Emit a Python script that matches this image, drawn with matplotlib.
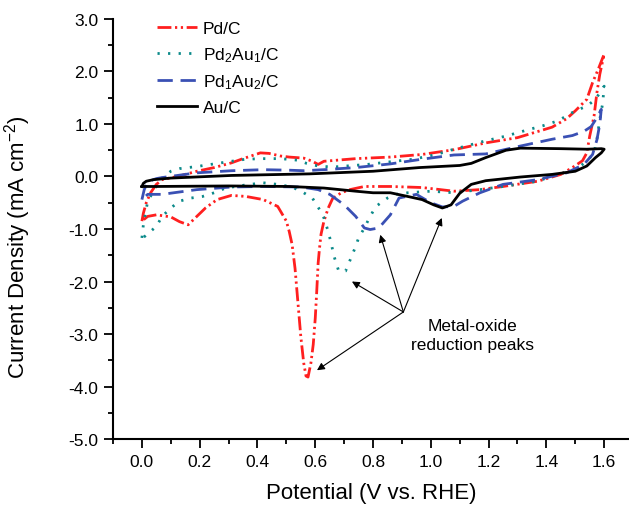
#!/usr/bin/env python3
"""
Cyclic voltammograms of Pd/C, Pd-Au/C and Au/C catalysts.

Draws the four CV loops (current density vs. potential) and marks the
metal-oxide reduction peaks with arrows from one label.
"""

import matplotlib
matplotlib.use('Agg')
import matplotlib.pyplot as plt
from matplotlib.ticker import MultipleLocator, FormatStrFormatter

# Pd/C: forward scan from 0 V to 1.6 V, then back to 0 V
pdc_v = [0.0, 0.005, 0.015, 0.03, 0.05, 0.07, 0.13, 0.19, 0.25, 0.31, 0.35, 0.41,
         0.44, 0.48, 0.51, 0.56, 0.59, 0.61, 0.63, 0.74, 0.86, 0.97, 1.08, 1.19,
         1.30, 1.42, 1.47, 1.50, 1.54, 1.56, 1.58, 1.60,
         1.585, 1.575, 1.565, 1.55, 1.54, 1.525, 1.49, 1.45, 1.37, 1.25, 1.17,
         1.08, 0.97, 0.86, 0.77, 0.72, 0.69, 0.66, 0.645, 0.63, 0.62, 0.615,
         0.61, 0.605, 0.60, 0.593, 0.585, 0.575, 0.568, 0.56, 0.55, 0.54, 0.53,
         0.52, 0.51, 0.50, 0.47, 0.42, 0.36, 0.31, 0.26, 0.22, 0.19, 0.16, 0.13,
         0.10, 0.05, 0.02, 0.0]
pdc_j = [-0.85, -0.70, -0.50, -0.31, -0.15, -0.06, 0.01, 0.10, 0.17, 0.26, 0.34, 0.45,
         0.44, 0.39, 0.37, 0.35, 0.29, 0.23, 0.29, 0.34, 0.37, 0.42, 0.51, 0.64,
         0.74, 0.94, 1.10, 1.25, 1.47, 1.79, 2.05, 2.33,
         1.95, 1.60, 1.15, 0.77, 0.45, 0.30, 0.17, 0.04, -0.09, -0.19, -0.25,
         -0.28, -0.21, -0.19, -0.19, -0.25, -0.31, -0.42, -0.60, -0.85, -1.10, -1.35,
         -1.65, -2.20, -2.70, -3.20, -3.55, -3.82, -3.80, -3.55, -3.05, -2.40, -1.75,
         -1.30, -1.05, -0.85, -0.57, -0.44, -0.38, -0.36, -0.44, -0.60, -0.76, -0.92, -0.86,
         -0.77, -0.73, -0.76, -0.85]

# Pd2Au1/C
pd2au1_v = [0.0, 0.005, 0.02, 0.05, 0.07, 0.10, 0.13, 0.19, 0.25, 0.31, 0.36, 0.42,
            0.48, 0.54, 0.57, 0.61, 0.66, 0.78, 0.94, 1.02, 1.08, 1.19, 1.26, 1.33,
            1.39, 1.44, 1.50, 1.54, 1.57, 1.60,
            1.595, 1.585, 1.575, 1.565, 1.54, 1.50, 1.42, 1.37, 1.25, 1.17, 1.08,
            1.00, 0.92, 0.88, 0.85, 0.81, 0.79, 0.77, 0.75, 0.74, 0.72, 0.705, 0.69,
            0.68, 0.665, 0.655, 0.645, 0.63, 0.615, 0.59, 0.56, 0.52, 0.47, 0.42,
            0.36, 0.29, 0.25, 0.21, 0.17, 0.13, 0.10, 0.07, 0.05, 0.01, 0.0]
pd2au1_j = [-1.17, -0.92, -0.47, -0.19, -0.03, 0.10, 0.15, 0.19, 0.24, 0.29, 0.33, 0.34,
            0.34, 0.31, 0.25, 0.20, 0.18, 0.23, 0.33, 0.42, 0.52, 0.68, 0.77, 0.88,
            0.97, 1.06, 1.25, 1.34, 1.47, 1.72,
            1.40, 1.09, 0.71, 0.45, 0.29, 0.13, 0.01, -0.09, -0.19, -0.25, -0.31,
            -0.28, -0.31, -0.34, -0.41, -0.57, -0.76, -0.98, -1.17, -1.33, -1.60, -1.80, -1.82,
            -1.78, -1.52, -1.27, -1.05, -0.79, -0.63, -0.41, -0.31, -0.20, -0.15, -0.12,
            -0.16, -0.22, -0.31, -0.38, -0.41, -0.47, -0.60, -0.76, -0.95, -1.14, -1.17]

# Pd1Au2/C
pd1au2_v = [0.0, 0.008, 0.02, 0.05, 0.07, 0.19, 0.31, 0.42, 0.51, 0.56, 0.63, 0.74,
            0.86, 0.97, 1.08, 1.19, 1.31, 1.42, 1.49, 1.53, 1.555, 1.575, 1.59,
            1.585, 1.575, 1.56, 1.53, 1.47, 1.37, 1.25, 1.17, 1.11, 1.08, 1.04,
            1.00, 0.95, 0.89, 0.86, 0.82, 0.79, 0.77, 0.74, 0.70, 0.65, 0.61, 0.55,
            0.42, 0.31, 0.19, 0.07, 0.02, 0.0]
pd1au2_j = [-0.44, -0.25, -0.10, -0.04, -0.02, 0.07, 0.11, 0.13, 0.12, 0.11, 0.13, 0.17,
            0.24, 0.33, 0.41, 0.43, 0.58, 0.71, 0.78, 0.86, 0.95, 1.12, 1.28,
            1.00, 0.70, 0.42, 0.23, 0.07, -0.06, -0.15, -0.31, -0.47, -0.57, -0.58,
            -0.50, -0.34, -0.41, -0.73, -0.98, -1.01, -0.98, -0.76, -0.54, -0.34, -0.25, -0.20,
            -0.19, -0.20, -0.25, -0.34, -0.34, -0.44]

# Au/C
auc_v = [0.0, 0.005, 0.015, 0.04, 0.10, 0.31, 0.58, 0.80, 0.96, 1.10, 1.14, 1.19,
         1.26, 1.31, 1.45, 1.54, 1.59, 1.60,
         1.59, 1.57, 1.54, 1.50, 1.42, 1.31, 1.19, 1.14, 1.10, 1.07, 1.04, 1.01,
         0.97, 0.92, 0.86, 0.80, 0.74, 0.63, 0.51, 0.30, 0.05, 0.0]
auc_j = [-0.19, -0.13, -0.09, -0.06, -0.03, 0.02, 0.05, 0.10, 0.17, 0.21, 0.25, 0.36,
         0.50, 0.54, 0.53, 0.52, 0.53, 0.52,
         0.45, 0.36, 0.20, 0.10, 0.04, -0.01, -0.08, -0.15, -0.32, -0.54, -0.60, -0.54,
         -0.44, -0.38, -0.31, -0.31, -0.28, -0.22, -0.19, -0.18, -0.19, -0.19]

series_labels = ['Pd/C', 'Pd$_2$Au$_1$/C', 'Pd$_1$Au$_2$/C', 'Au/C']

# annotation: common arrow origin and arrow tips at each reduction peak
note_text = 'Metal-oxide\nreduction peaks'
note_pos = (1.146, -3.02)
arrow_origin = (0.905, -2.58)
arrow_tips_v = [0.606, 0.727, 0.825, 1.038]
arrow_tips_j = [-3.69, -2.00, -1.11, -0.79]

plt.rcParams['font.family'] = ['Liberation Sans', 'DejaVu Sans']
plt.rcParams['mathtext.fontset'] = 'custom'
plt.rcParams['mathtext.rm'] = 'Liberation Sans'
plt.rcParams['mathtext.it'] = 'Liberation Sans:italic'
plt.rcParams['mathtext.bf'] = 'Liberation Sans:bold'
plt.rcParams['axes.unicode_minus'] = False


def main():
    fig = plt.figure(figsize=(6.29, 5.06), dpi=100)
    ax = fig.add_axes([0.1797, 0.1304, 0.8203, 0.8301])

    lw = 2.0
    ax.plot(pdc_v, pdc_j, color='#ff1f1f', lw=lw,
            linestyle=(0, (5, 1.3, 0.8, 1.3, 0.8, 1.3)), label=series_labels[0])
    ax.plot(pd2au1_v, pd2au1_j, color='#0b8a8a', lw=lw,
            linestyle=(0, (0.8, 3.0)), label=series_labels[1])
    ax.plot(pd1au2_v, pd1au2_j, color='#3a50b4', lw=lw,
            linestyle=(0, (5.5, 2.8)), label=series_labels[2])
    ax.plot(auc_v, auc_j, color='black', lw=lw, linestyle='-', label=series_labels[3])

    # arrows to the reduction peaks
    for tv, tj in zip(arrow_tips_v, arrow_tips_j):
        ax.annotate('', xy=(tv, tj), xytext=arrow_origin,
                    arrowprops=dict(arrowstyle='-|>', color='black', lw=0.8,
                                    mutation_scale=11, shrinkA=0, shrinkB=0))
    ax.text(note_pos[0], note_pos[1], note_text, ha='center', va='center',
            multialignment='center', fontsize=12.5, linespacing=1.3)

    # axes limits and ticks
    ax.set_xlim(-0.1, 1.686)
    ax.set_ylim(-5.0, 3.0)
    ax.xaxis.set_major_locator(MultipleLocator(0.2))
    ax.xaxis.set_minor_locator(MultipleLocator(0.1))
    ax.yaxis.set_major_locator(MultipleLocator(1.0))
    ax.yaxis.set_minor_locator(MultipleLocator(0.5))
    ax.xaxis.set_major_formatter(FormatStrFormatter('%.1f'))
    ax.yaxis.set_major_formatter(FormatStrFormatter('%.1f'))
    ax.tick_params(which='major', direction='out', length=6.5, width=1.3,
                   labelsize=12.5, pad=4)
    ax.tick_params(which='minor', direction='out', length=3.5, width=1.3)

    for side in ['top', 'right']:
        ax.spines[side].set_visible(False)
    for side in ['left', 'bottom']:
        ax.spines[side].set_linewidth(1.5)

    ax.set_xlabel('Potential (V vs. RHE)', fontsize=16)
    ax.set_ylabel('Current Density (mA cm$^{-2}$)', fontsize=16)
    ax.xaxis.set_label_coords(0.5, -0.102)
    ax.yaxis.set_label_coords(-0.155, 0.46)

    ax.legend(loc='upper left', bbox_to_anchor=(0.085, 0.995), frameon=False,
              fontsize=12.5, handlelength=2.3, handletextpad=0.35,
              labelspacing=0.5, borderpad=0, borderaxespad=0)

    fig.savefig('out.png', dpi=100)
    plt.close(fig)


if __name__ == "__main__":
    main()
